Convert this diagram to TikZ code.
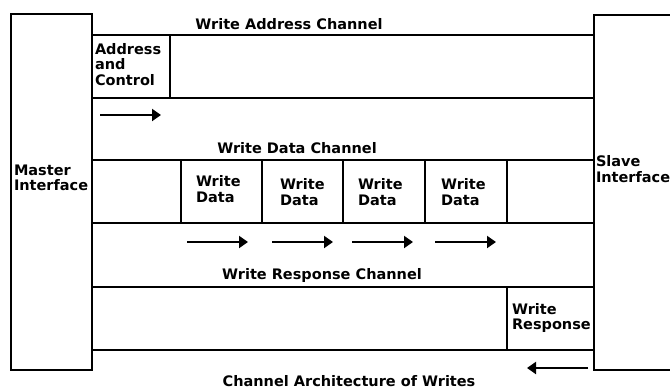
\documentclass[tikz,border=0pt]{standalone}
\usepackage{fontspec}
\setmainfont{DejaVu Sans}
\usetikzlibrary{arrows.meta}

\tikzset{
  lbl/.style={font=\bfseries\fontsize{14.5}{15.5}\selectfont, inner sep=0pt, align=left},
  flow/.style={line width=2pt, -{Triangle[length=9pt,width=12pt]}}
}

\begin{document}
\begin{tikzpicture}[x=1pt, y=-1pt, line width=2pt]
\useasboundingbox (0,0) rectangle (670,389);
%interfaces
\draw (11,14) rectangle (92,370);
\draw (670,15) -- (594,15) -- (594,370) -- (670,370);
\node[lbl, anchor=west] (master) at (13,178) {Master\\Interface};
\node[lbl, anchor=west] (slave) at (595,169) {Slave\\Interface};
%address channel
\draw (92,35) -- (594,35);
\draw (92,98) -- (594,98);
\draw (170,35) -- (170,98);
\node[lbl] (wach) at (289,24) {Write Address Channel};
\node[lbl, anchor=north west] (addr) at (94,42) {Address\\and\\Control};
\draw[flow] (100,115) -- (161,115);
%data channel
\draw (92,160) -- (594,160);
\draw (92,223) -- (594,223);
\foreach \x in {181,262,343,425,507}
  \draw (\x,160) -- (\x,223);
\node[lbl] (wdch) at (297,148) {Write Data Channel};
\node[lbl, anchor=west] (wd1) at (195,189) {Write\\Data};
\node[lbl, anchor=west] (wd2) at (279,192) {Write\\Data};
\node[lbl, anchor=west] (wd3) at (357,192) {Write\\Data};
\node[lbl, anchor=west] (wd4) at (440,192) {Write\\Data};
\foreach \x in {187,272,352,435}
  \draw[flow] (\x,242) -- ++(61,0);
%response channel
\draw (92,287) -- (594,287);
\draw (92,350) -- (594,350);
\draw (507,287) -- (507,350);
\node[lbl] (wrch) at (322,275) {Write Response Channel};
\node[lbl, anchor=west] (wresp) at (511,318) {Write\\Response};
\draw[flow] (588,368) -- (527,368);
%caption
\node[lbl] (caption) at (349,381) {Channel Architecture of Writes};
\end{tikzpicture}
\end{document}
